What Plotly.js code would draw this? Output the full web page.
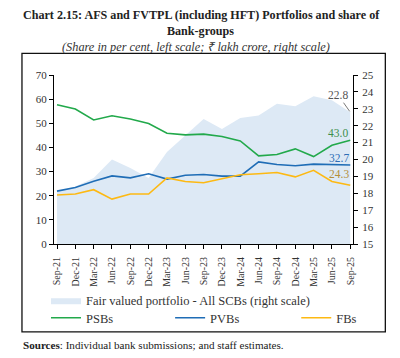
<!DOCTYPE html>
<html>
<head>
<meta charset="utf-8">
<script src="https://cdn.plot.ly/plotly-3.0.1.min.js"></script>
<style>html,body{margin:0;padding:0;background:#fff;}#chart{width:400px;height:358px;}</style>
</head>
<body>
<div id="chart"></div>
<script>
// ---- data ----
const quarters = ["Sep-21","Dec-21","Mar-22","Jun-22","Sep-22","Dec-22","Mar-23","Jun-23","Sep-23","Dec-23","Mar-24","Jun-24","Sep-24","Dec-24","Mar-25","Jun-25","Sep-25"];
const fairValued = [18.1, 18.4, 18.9, 20.0, 19.5, 18.9, 20.45, 21.4, 22.4, 21.8, 22.45, 22.6, 23.3, 23.15, 23.75, 23.5, 22.8];
const psbs = [57.7, 55.9, 51.4, 53.1, 51.8, 49.9, 45.9, 45.2, 45.5, 44.5, 42.7, 36.5, 37.1, 39.4, 36.2, 40.9, 43.0];
const pvbs = [21.9, 23.4, 26.0, 28.2, 27.4, 29.1, 26.9, 28.5, 28.8, 28.1, 28.1, 34.0, 32.9, 32.4, 33.1, 32.8, 32.7];
const fbs  = [20.3, 20.7, 22.5, 18.6, 20.7, 20.7, 27.4, 25.9, 25.4, 27.0, 28.7, 29.1, 29.6, 27.8, 30.5, 25.9, 24.3];

// ---- geometry helpers (plot area in px) ----
const W = 400, H = 358;
const L = 54, R = 352.7, T = 74.7, B = 244;
const px = x => (x - L) / (R - L);
const py = y => (B - y) / (B - T);

const FONT = "Liberation Serif, Times New Roman, serif";
const GREEN = "#22a94b", BLUE = "#1f6db6", GOLD = "#fdb913", AREA = "#dde9f5";

const traces = [
  {x: quarters, y: fairValued, type: "scatter", mode: "lines", fill: "tozeroy",
   fillcolor: AREA, line: {width: 0, color: AREA}, yaxis: "y",
   name: "Fair valued portfolio - All SCBs (right scale)", legend: "legend", hoverinfo: "skip"},
  {x: quarters, y: psbs, type: "scatter", mode: "lines", line: {color: GREEN, width: 1.6},
   yaxis: "y2", name: "PSBs", legend: "legend2"},
  {x: quarters, y: pvbs, type: "scatter", mode: "lines", line: {color: BLUE, width: 1.6},
   yaxis: "y2", name: "PVBs", legend: "legend3"},
  {x: quarters, y: fbs, type: "scatter", mode: "lines", line: {color: GOLD, width: 1.6},
   yaxis: "y2", name: "FBs", legend: "legend4"}
];

const n = quarters.length;
const axFont = {family: FONT, size: 11, color: "#333"};
const legFont = {family: FONT, size: 12.5, color: "#333"};
const mkLegend = (xPx, yPx) => ({
  orientation: "h", x: px(xPx), xanchor: "left", y: py(yPx), yanchor: "middle",
  font: legFont, bgcolor: "rgba(0,0,0,0)", itemwidth: 30
});

const layout = {
  width: W, height: H,
  margin: {l: L, r: W - R, t: T, b: H - B, pad: 0},
  paper_bgcolor: "#fff", plot_bgcolor: "#fff",
  font: {family: FONT, color: "#222"},
  showlegend: true,
  xaxis: {
    type: "category", categoryorder: "array", categoryarray: quarters,
    range: [-0.164, n - 1 + 0.15],
    tickangle: -90, tickfont: {family: FONT, size: 10, color: "#333"}, ticklabelstandoff: 4,
    ticks: "outside", ticklen: 4, tickcolor: "#000", tickwidth: 1,
    showline: true, linecolor: "#000", linewidth: 1,
    showgrid: false, zeroline: false, fixedrange: true
  },
  yaxis: {
    side: "right", range: [15, 25], dtick: 1, tick0: 15,
    tickfont: axFont, ticks: "outside", ticklen: 4, tickcolor: "#000", ticklabelstandoff: 2,
    showline: true, linecolor: "#000", linewidth: 1,
    showgrid: false, zeroline: false, fixedrange: true
  },
  yaxis2: {
    overlaying: "y", side: "left", range: [0, 70], dtick: 10, tick0: 0,
    tickfont: axFont, ticks: "outside", ticklen: 4, tickcolor: "#000",
    showline: true, linecolor: "#000", linewidth: 1,
    showgrid: false, zeroline: false, fixedrange: true
  },
  legend: mkLegend(46, 300.7),
  legend2: mkLegend(46, 318.3),
  legend3: mkLegend(170, 318.3),
  legend4: mkLegend(296, 318.3),
  shapes: [
    {type: "rect", xref: "paper", yref: "paper", x0: px(22), x1: px(385), y0: py(332), y1: py(53),
     line: {color: "#111", width: 1.3}, fillcolor: "rgba(0,0,0,0)", layer: "below"}
  ],
  annotations: [
    {text: "<b>Chart 2.15: AFS and FVTPL (including HFT) Portfolios and share of</b>",
     xref: "paper", yref: "paper", x: px(201), y: py(15), xanchor: "center", yanchor: "middle",
     showarrow: false, font: {family: FONT, size: 12.1, color: "#222"}},
    {text: "<b>Bank-groups</b>",
     xref: "paper", yref: "paper", x: px(200), y: py(31), xanchor: "center", yanchor: "middle",
     showarrow: false, font: {family: FONT, size: 12.1, color: "#222"}},
    {text: "<i>(Share in per cent, left scale; ₹ lakh crore, right scale)</i>",
     xref: "paper", yref: "paper", x: px(196), y: py(47), xanchor: "center", yanchor: "middle",
     showarrow: false, font: {family: FONT, size: 12.3, color: "#333"}},
    {text: "<b>Sources</b>: Individual bank submissions; and staff estimates.",
     xref: "paper", yref: "paper", x: px(21), y: py(345), xanchor: "left", yanchor: "middle",
     showarrow: false, font: {family: FONT, size: 11.1, color: "#222"}},
    {text: fairValued[n - 1].toFixed(1), x: quarters[n - 1], y: fairValued[n - 1], xref: "x", yref: "y",
     showarrow: true, arrowhead: 0, arrowwidth: 0.8, arrowcolor: "#555", ax: -12, ay: -17, standoff: 1,
     font: {family: FONT, size: 11.5, color: "#555"}},
    {text: psbs[n - 1].toFixed(1), x: quarters[n - 1], y: psbs[n - 1], xref: "x", yref: "y2",
     showarrow: false, xshift: -12, yshift: 7.5, font: {family: FONT, size: 11.5, color: "#3c8f4c"}},
    {text: pvbs[n - 1].toFixed(1), x: quarters[n - 1], y: pvbs[n - 1], xref: "x", yref: "y2",
     showarrow: false, xshift: -11, yshift: 6.6, font: {family: FONT, size: 11.5, color: "#2d6db5"}},
    {text: fbs[n - 1].toFixed(1), x: quarters[n - 1], y: fbs[n - 1], xref: "x", yref: "y2",
     showarrow: false, xshift: -11, yshift: 11, font: {family: FONT, size: 11.5, color: "#b48f3a"}}
  ]
};

Plotly.newPlot("chart", traces, layout, {staticPlot: true, displayModeBar: false});
</script>
</body>
</html>
